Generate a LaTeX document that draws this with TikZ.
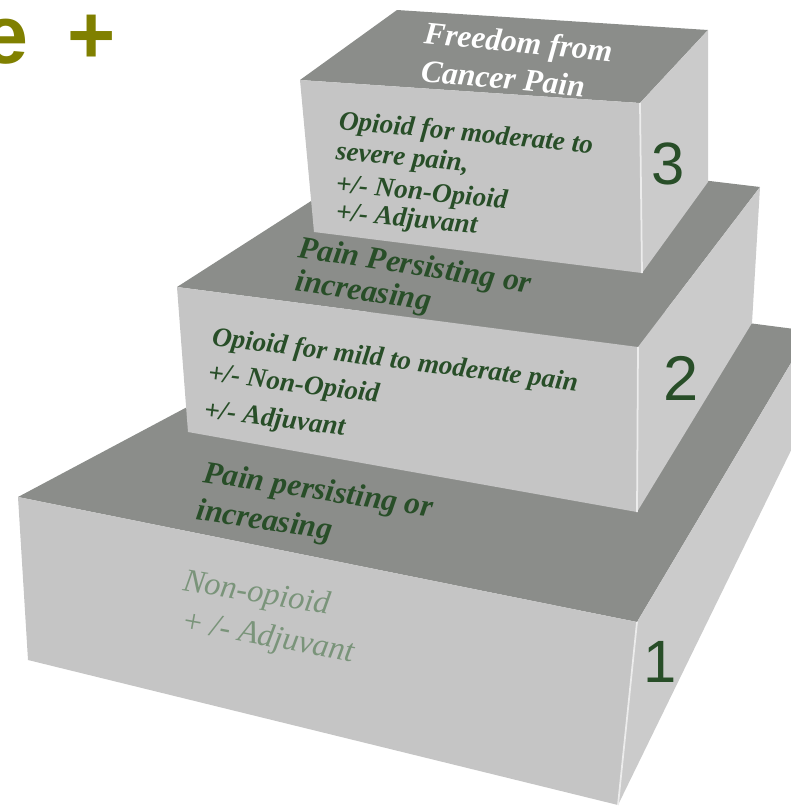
\documentclass[tikz,border=0pt]{standalone}
\usepackage{fontspec}
\setmainfont{Liberation Serif}
\newfontfamily\digitfont{Liberation Sans}
\definecolor{topgray}{RGB}{139,141,138}
\definecolor{frontgray}{RGB}{197,197,197}
\definecolor{sidegray}{RGB}{203,203,203}
\definecolor{leafgreen}{RGB}{40,78,40}
\definecolor{palegreen}{RGB}{122,148,122}
\definecolor{olivetitle}{RGB}{128,128,0}
\tikzset{
  topface/.style={fill=topgray},
  frontface/.style={fill=frontgray},
  sideface/.style={fill=sidegray},
  edgeline/.style={draw=white!85!gray, line width=1pt},
  steptext/.style={anchor=base west, inner sep=0pt, text=leafgreen,
    font=\fontsize{15.5}{15.5}\selectfont\bfseries\itshape},
  toptext/.style={steptext, font=\fontsize{18}{18}\selectfont\bfseries\itshape},
  paletext/.style={steptext, text=palegreen,
    font=\fontsize{18.5}{18.5}\selectfont\itshape},
  stepnum/.style={text=leafgreen, inner sep=0pt,
    font=\digitfont\fontsize{34}{34}\selectfont},
}
\begin{document}
\begin{tikzpicture}[x=0.02cm,y=-0.02cm]
    \useasboundingbox (0,0) rectangle (791,806);
    \clip (0,0) rectangle (791,806);
    % step 1
    \fill[topface] (18,497) -- (424,281) -- (810,331) -- (637,622) -- cycle;
    \fill[frontface] (18,497) -- (637,622) -- (618,805) -- (28,660) -- cycle;
    \fill[sideface] (637,622) -- (810,331) -- (800,432) -- (618,805) -- cycle;
    \draw[edgeline] (637,622) -- (618,805);
    % step 2
    \fill[topface] (177,287) -- (400,144) -- (760,187) -- (638,347) -- cycle;
    \fill[frontface] (177,287) -- (638,347) -- (637,512) -- (188,432) -- cycle;
    \fill[sideface] (638,347) -- (760,187) -- (752,323) -- (637,512) -- cycle;
    \draw[edgeline] (638,347) -- (637,512);
    % step 3
    \fill[topface] (300,80) -- (397,10) -- (708,30) -- (640,103) -- cycle;
    \fill[frontface] (300,80) -- (640,103) -- (642,273) -- (314,232) -- cycle;
    \fill[sideface] (640,103) -- (708,30) -- (708,182) -- (642,273) -- cycle;
    \draw[edgeline] (640,103) -- (642,273);

    \node (freedom) [toptext, text=white, rotate=-5.7] at (423,43) {Freedom from};
    \node (cancer) [toptext, text=white, rotate=-5.5] at (420,81) {Cancer Pain};
    \node (opioidA) [steptext, rotate=-5.5] at (338,129) {Opioid for moderate to};
    \node (severe) [steptext, rotate=-5.5] at (335,159) {severe pain,};
    \node (nonopA) [steptext, rotate=-5.5] at (335,192) {+/- Non-Opioid};
    \node (adjA) [steptext, rotate=-5.5] at (335,220) {+/- Adjuvant};
    \node (num3) [stepnum] at (668,164) {3};

    \node (persistB) [toptext, rotate=-8.8] at (297,257) {Pain Persisting or};
    \node (increasB) [toptext, rotate=-8.8] at (294,290) {increasing};
    \node (opioidB) [steptext, rotate=-7.2] at (211,345) {Opioid for mild to moderate pain};
    \node (nonopB) [steptext, rotate=-7.2] at (207,381) {+/- Non-Opioid};
    \node (adjB) [steptext, rotate=-7.2] at (203,418) {+/- Adjuvant};
    \node (num2) [stepnum, font=\digitfont\fontsize{36}{36}\selectfont] at (681,378) {2};

    \node (persistC) [toptext, rotate=-8.7] at (202,482) {Pain persisting or};
    \node (increasC) [toptext, rotate=-8.7] at (195,519) {increasing};
    \node (nonopC) [paletext, rotate=-9.5] at (182,590) {Non-opioid};
    \node (adjC) [paletext, rotate=-10.5] at (180,630) {+ /- Adjuvant};
    \node (num1) [stepnum] at (660,662) {1};

    \node (title) [anchor=base west, inner sep=0pt, text=olivetitle,
      font=\digitfont\bfseries\fontsize{47}{47}\selectfont] at (-18,63) {e\hspace{0.2em} +};
\end{tikzpicture}
\end{document}
